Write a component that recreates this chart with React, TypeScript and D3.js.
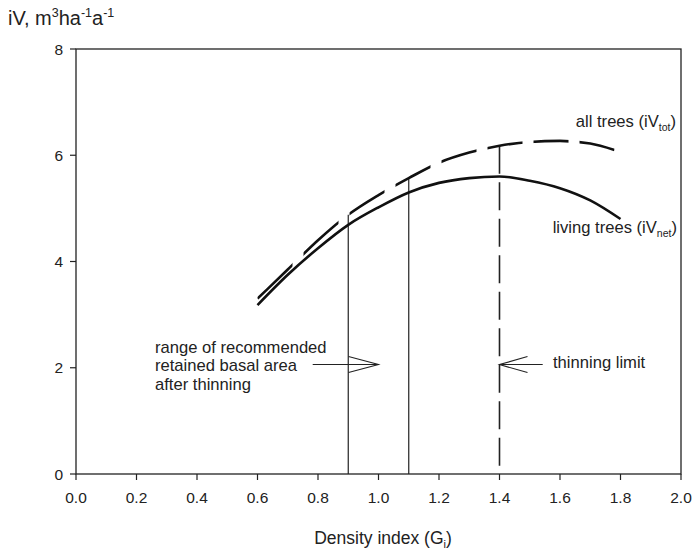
import React from "react";
import * as d3 from "d3";

// ---- data ----
const densityTot = [0.6, 0.7, 0.8, 0.9, 1.0, 1.1, 1.2, 1.3, 1.4, 1.5, 1.6, 1.7, 1.78];
const ivTot = [3.3, 3.85, 4.4, 4.88, 5.25, 5.57, 5.86, 6.05, 6.18, 6.25, 6.27, 6.22, 6.1];
const densityNet = [0.6, 0.7, 0.8, 0.9, 1.0, 1.1, 1.2, 1.3, 1.4, 1.5, 1.6, 1.7, 1.8];
const ivNet = [3.18, 3.75, 4.25, 4.69, 5.02, 5.3, 5.48, 5.57, 5.6, 5.52, 5.38, 5.15, 4.8];
const xTicks = [0, 0.2, 0.4, 0.6, 0.8, 1.0, 1.2, 1.4, 1.6, 1.8, 2.0];
const yTicks = [0, 2, 4, 6, 8];
const retainedRange = [0.9, 1.1];
const thinningLimit = 1.4;
const arrowLevel = 2.06;
const rangeLabel = ["range of recommended", "retained basal area", "after thinning"];

const FONT = "'Liberation Sans', Arial, Helvetica, sans-serif";

export default function App() {
  const W = 694, H = 553;
  const left = 76, right = 681, top = 49, bottom = 474;
  const x = d3.scaleLinear().domain([0, 2]).range([left, right]);
  const y = d3.scaleLinear().domain([0, 8]).range([bottom, top]);

  const totPts = densityTot.map((d, i) => [d, ivTot[i]] as [number, number]);
  const netPts = densityNet.map((d, i) => [d, ivNet[i]] as [number, number]);
  const line = d3.line<[number, number]>().x(d => x(d[0])).y(d => y(d[1])).curve(d3.curveMonotoneX);

  const interp = (xs: number[], ys: number[], v: number) => {
    const i = d3.bisectLeft(xs, v);
    if (xs[i] === v) return ys[i];
    const t = (v - xs[i - 1]) / (xs[i] - xs[i - 1]);
    return ys[i - 1] + t * (ys[i] - ys[i - 1]);
  };

  // dash clip rectangles (dashes evenly spaced in x, as in the reference)
  const dashRects: number[] = [];
  for (let px = x(densityTot[0]); px < x(densityTot[densityTot.length - 1]); px += 46) dashRects.push(px);

  const arrowY = y(arrowLevel);
  const tipL = x(1.0);
  const tipR = x(thinningLimit);

  return (
    <svg width={W} height={H} style={{ position: "absolute", left: 0, top: 0, background: "#fff" }} fontFamily={FONT}>
      <defs>
        <clipPath id="dashclip">
          {dashRects.map((px, i) => (
            <rect key={i} x={px} y={0} width={35} height={H} />
          ))}
        </clipPath>
      </defs>

      {/* frame */}
      <rect x={left} y={top} width={right - left} height={bottom - top} fill="none" stroke="#222" strokeWidth={1.3} />

      {/* x ticks */}
      {xTicks.map(t => (
        <g key={t}>
          <line x1={x(t)} x2={x(t)} y1={bottom} y2={bottom + 6} stroke="#222" strokeWidth={1.2} />
          <text x={x(t)} y={503} textAnchor="middle" fontSize={15.5} fill="#222">{t.toFixed(1)}</text>
        </g>
      ))}
      {/* y ticks */}
      {yTicks.map(t => (
        <g key={t}>
          <line x1={left - 6} x2={left} y1={y(t)} y2={y(t)} stroke="#222" strokeWidth={1.2} />
          <text x={63} y={y(t)} dy="0.36em" textAnchor="end" fontSize={15.5} fill="#222">{t}</text>
        </g>
      ))}

      {/* vertical lines */}
      {retainedRange.map(r => (
        <line key={r} x1={x(r)} x2={x(r)} y1={y(interp(densityTot, ivTot, r))} y2={bottom} stroke="#222" strokeWidth={1.2} />
      ))}
      <line x1={tipR} x2={tipR} y1={y(interp(densityTot, ivTot, thinningLimit))} y2={bottom} stroke="#222" strokeWidth={1.6} strokeDasharray="28 8.5" />

      {/* curves */}
      <path d={line(netPts) || ""} fill="none" stroke="#111" strokeWidth={2.6} />
      <path d={line(totPts) || ""} fill="none" stroke="#111" strokeWidth={2.6} clipPath="url(#dashclip)" />

      {/* arrows */}
      <g stroke="#222" strokeWidth={1.1} fill="none">
        <line x1={312.7} x2={tipL} y1={arrowY} y2={arrowY} />
        <polyline points={`${tipL - 30},${arrowY - 8} ${tipL},${arrowY} ${tipL - 30},${arrowY + 8}`} />
        <line x1={tipR} x2={542.7} y1={arrowY} y2={arrowY} />
        <polyline points={`${tipR + 28},${arrowY - 8} ${tipR},${arrowY} ${tipR + 28},${arrowY + 8}`} />
      </g>

      {/* annotation texts */}
      {rangeLabel.map((s, i) => (
        <text key={s} x={155} y={352.5 + i * 18.6} fontSize={16.6} fill="#222">{s}</text>
      ))}
      <text x={553} y={368} fontSize={16.6} fill="#222">thinning limit</text>

      <text x={676} y={127} textAnchor="end" fontSize={16.6} fill="#222">
        all trees (iV<tspan fontSize={10.5} dy={4}>tot</tspan><tspan dy={-4}>)</tspan>
      </text>
      <text x={677} y={233} textAnchor="end" fontSize={16.6} fill="#222">
        living trees (iV<tspan fontSize={10.5} dy={4}>net</tspan><tspan dy={-4}>)</tspan>
      </text>

      {/* axis titles */}
      <text x={8} y={25} fontSize={20} fill="#222">
        iV, m<tspan fontSize={12.5} dy={-8}>3</tspan><tspan dy={8}>ha</tspan><tspan fontSize={12.5} dy={-8}>-1</tspan><tspan dy={8}>a</tspan><tspan fontSize={12.5} dy={-8}>-1</tspan>
      </text>
      <text x={383} y={544} textAnchor="middle" fontSize={17.5} fill="#222">
        Density index (G<tspan fontSize={11} dy={4}>i</tspan><tspan dy={-4}>)</tspan>
      </text>
    </svg>
  );
}
